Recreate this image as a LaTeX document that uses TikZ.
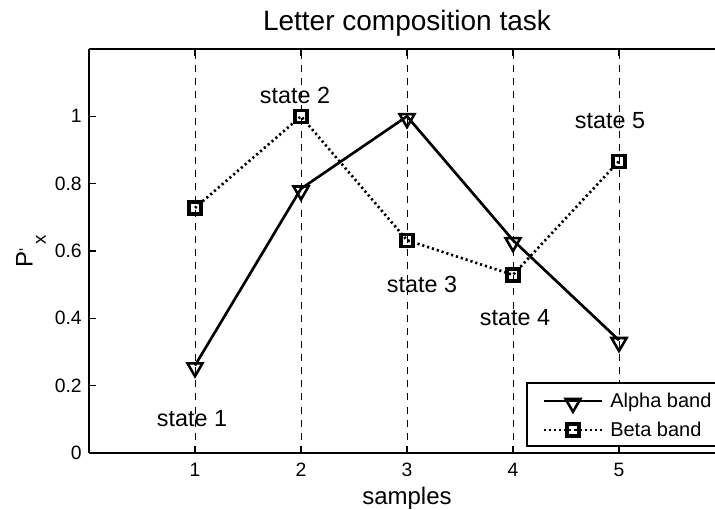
\documentclass[tikz,border=0pt]{standalone}
\usepackage{fontspec}
\setmainfont{Liberation Sans}
\usetikzlibrary{shapes.geometric}
\begin{document}
\begin{tikzpicture}[x=0.75pt,y=-0.75pt,
  axisline/.style={line width=0.8pt},
  gridline/.style={line width=0.7pt, dash pattern=on 5.25pt off 4.6pt},
  alphaline/.style={line width=2pt},
  betaline/.style={line width=2pt, dash pattern=on 1.6pt off 2.2pt},
  trimark/.style={draw, line width=1.9pt, regular polygon, regular polygon sides=3,
    shape border rotate=180, minimum size=13pt, inner sep=0pt},
  sqmark/.style={draw, line width=2.4pt, rectangle, minimum size=9pt, inner sep=0pt},
  ticklab/.style={font=\fontsize{14.5}{16}\selectfont, inner sep=0pt},
  statelab/.style={font=\fontsize{17.5}{20}\selectfont, inner sep=0pt, anchor=base},
  leglab/.style={font=\fontsize{15}{18}\selectfont, inner sep=0pt, anchor=base west},
]
\useasboundingbox (0,0) rectangle (715,510);
\clip (0,0) rectangle (715,510);
\fill[white] (0,0) rectangle (715,510);

\begin{scope}[shift={(89,453)}, x=79.5pt, y=252.5pt]
  % vertical dashed lines
  \foreach \i in {1,...,5} {
    \coordinate (gb\i) at (\i,0);
    \coordinate (gt\i) at (\i,1.2);
    \draw[gridline] (gb\i) -- (gt\i);
    \draw[axisline] (gb\i) -- ++(0pt,5pt);
    \draw[axisline] (gt\i) -- ++(0pt,-5pt);
    \node[ticklab, anchor=base] (xl\i) at ([yshift=-17.5pt]gb\i) {\i};
  }
  % axes box
  \coordinate (o) at (0,0);
  \coordinate (ox) at (6,0);
  \coordinate (oy) at (0,1.2);
  \coordinate (oxy) at (6,1.2);
  \draw[axisline] (oy) -- (oxy) -- (ox);
  \draw[axisline] (o) -- (oy);
  \draw[line width=1.2pt] (o) -- (ox);
  % y ticks
  \foreach \n/\v/\t in {0/0/0,1/0.2/0.2,2/0.4/0.4,3/0.6/0.6,4/0.8/0.8,5/1/1} {
    \coordinate (yt\n) at (0,\v);
    \draw[axisline] (yt\n) -- ++(5.25pt,0pt);
    \node[ticklab, anchor=east] (yl\n) at ([xshift=-5.25pt]yt\n) {\t};
  }
  % data coordinates
  \coordinate (A1) at (1,0.26);
  \coordinate (A2) at (2,0.785);
  \coordinate (A3) at (3,1.0);
  \coordinate (A4) at (4,0.632);
  \coordinate (A5) at (5,0.335);
  \coordinate (B1) at (1,0.728);
  \coordinate (B2) at (2,1.0);
  \coordinate (B3) at (3,0.632);
  \coordinate (B4) at (4,0.529);
  \coordinate (B5) at (5,0.867);
\end{scope}

% lines
\draw[betaline] (B1) -- (B2) -- (B3) -- (B4) -- (B5);
\draw[alphaline] (A1) -- (A2) -- (A3) -- (A4) -- (A5);
% markers
\foreach \k in {1,...,5} {
  \node[trimark] (a\k) at ([yshift=-1.6pt]A\k) {};
  \node[sqmark] (b\k) at (B\k) {};
}

% state labels
\node[statelab] (s1) at (192,426) {state 1};
\node[statelab] (s2) at (295,104) {state 2};
\node[statelab] (s3) at (422,292) {state 3};
\node[statelab] (s4) at (515,325) {state 4};
\node[statelab] (s5) at (610,128) {state 5};

% title and axis labels
\node[font=\fontsize{21}{24}\selectfont, anchor=base, inner sep=0pt] (title) at (407,31) {Letter composition task};
\node[font=\fontsize{18}{20}\selectfont, anchor=base, inner sep=0pt] (xlab) at (407,504) {samples};
\node[font=\fontsize{18}{20}\selectfont, rotate=90, inner sep=0pt] (ylab) at (31,251)
  {P\raisebox{0.1em}{\fontsize{12}{14}\selectfont\textquotesingle}\,\raisebox{-0.55em}{\fontsize{14}{16}\selectfont x}};

% legend
\coordinate (lg1) at (527,383);
\coordinate (lg2) at (735,446);
\draw[line width=0.9pt, fill=white] (lg1) rectangle (lg2);
\coordinate (la1) at (544,401);
\coordinate (la2) at (602,401);
\coordinate (lb1) at (544,430);
\coordinate (lb2) at (602,430);
\draw[alphaline] (la1) -- (la2);
\node[trimark] (la) at ([yshift=-1.6pt]573,401) {};
\draw[betaline] (lb1) -- (lb2);
\node[sqmark] (lb) at (573,430) {};
\node[leglab] (lta) at (610,407) {Alpha band};
\node[leglab] (ltb) at (610,436) {Beta band};
\end{tikzpicture}
\end{document}
